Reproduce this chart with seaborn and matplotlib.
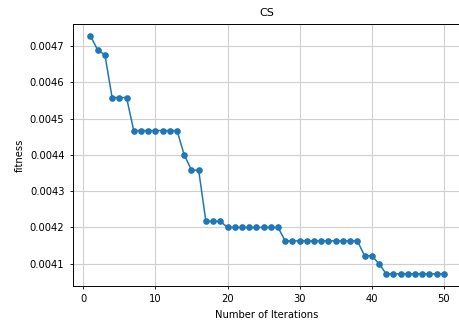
import matplotlib
matplotlib.use("Agg")
import matplotlib.pyplot as plt
import seaborn as sns
import pandas as pd

# fitness per iteration
iterations = list(range(1, 51))
fitness = ([0.004728, 0.004689, 0.004676]
           + [0.004558] * 3
           + [0.004467] * 7
           + [0.004400]
           + [0.004358] * 2
           + [0.004217] * 3
           + [0.004200] * 8
           + [0.004163] * 11
           + [0.004122] * 2
           + [0.004100]
           + [0.004072] * 9)

df = pd.DataFrame({"iter": iterations, "fitness": fitness})

plt.rcParams["font.size"] = 7.2
fig = plt.figure(figsize=(4.59, 3.2), dpi=100)
ax = fig.add_axes([0.1586, 0.107, 0.847, 0.818])

sns.lineplot(data=df, x="iter", y="fitness", marker="o", markersize=4.8,
             markeredgewidth=0, linewidth=1.1, color="#1f77b4", ax=ax)

ax.set_title("CS", fontsize=8)
ax.set_xlabel("Number of Iterations")
ax.set_ylabel("fitness")
ax.set_xticks([0, 10, 20, 30, 40, 50])
ax.set_xlim(-1.45, 52.45)
ax.grid(True, color="#d0d0d0", linewidth=0.8)
ax.margins(y=0.05)
for s in ax.spines.values():
    s.set_linewidth(0.7)
ax.spines["right"].set_visible(False)  # reference is cropped at the right edge
ax.tick_params(width=0.6, length=2.5)

fig.savefig("out.png", dpi=100)
